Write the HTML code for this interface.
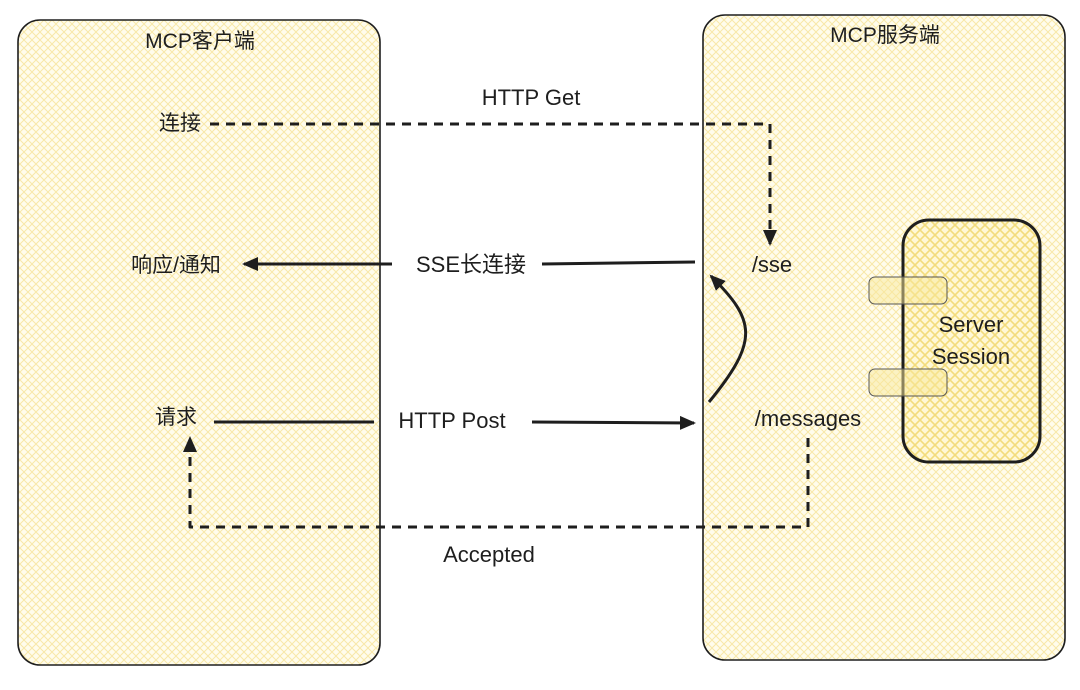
<!DOCTYPE html>
<html><head><meta charset="utf-8"><style>
html,body{margin:0;padding:0;background:#fff;}
svg text{font-family:"Liberation Sans","Noto Sans CJK SC",sans-serif;fill:#1e1e1e;}
</style></head><body>
<svg width="1080" height="685" viewBox="0 0 1080 685" xmlns="http://www.w3.org/2000/svg">
<defs>
<pattern id="h" width="8" height="8" patternUnits="userSpaceOnUse">
<rect width="8" height="8" fill="#fffcec"/>
<path d="M0 0L8 8M8 0L0 8" stroke="#f8e8a8" stroke-width="1"/>
</pattern>
<pattern id="h2" width="10" height="10" patternUnits="userSpaceOnUse">
<rect width="10" height="10" fill="#fff8d6"/>
<path d="M0 0L10 10M10 0L0 10" stroke="#f3dc7c" stroke-width="1.6"/>
</pattern>
<marker id="a" markerWidth="16" markerHeight="14" refX="14" refY="7" orient="auto" markerUnits="userSpaceOnUse">
<path d="M0 0L16 7L0 14Z" fill="#1e1e1e"/>
</marker>
</defs>
<rect x="18" y="20" width="362" height="645" rx="22" fill="url(#h)" stroke="#1e1e1e" stroke-width="1.6"/>
<rect x="703" y="15" width="362" height="645" rx="22" fill="url(#h)" stroke="#1e1e1e" stroke-width="1.6"/>
<rect x="903" y="220" width="137" height="242" rx="26" fill="url(#h2)" stroke="#1e1e1e" stroke-width="3"/>
<rect x="869" y="277" width="78" height="27" rx="6" fill="#f8e79a" fill-opacity="0.5" stroke="#555" stroke-width="1"/>
<rect x="869" y="369" width="78" height="27" rx="6" fill="#f8e79a" fill-opacity="0.5" stroke="#555" stroke-width="1"/>
<text x="200" y="48" font-size="21" text-anchor="middle">MCP客户端</text>
<text x="885" y="42" font-size="21" text-anchor="middle">MCP服务端</text>
<text x="180" y="130" font-size="21" text-anchor="middle">连接</text>
<text x="176" y="272" font-size="21" text-anchor="middle">响应/通知</text>
<text x="176" y="424" font-size="21" text-anchor="middle">请求</text>
<text x="531" y="105" font-size="22" text-anchor="middle">HTTP Get</text>
<text x="471" y="272" font-size="22" text-anchor="middle">SSE长连接</text>
<text x="452" y="428" font-size="22" text-anchor="middle">HTTP Post</text>
<text x="489" y="562" font-size="22" text-anchor="middle">Accepted</text>
<text x="772" y="272" font-size="22" text-anchor="middle">/sse</text>
<text x="808" y="426" font-size="22" text-anchor="middle">/messages</text>
<text x="971" y="332" font-size="22" text-anchor="middle">Server</text>
<text x="971" y="364" font-size="22" text-anchor="middle">Session</text>
<path d="M210 124 L770 124 L770 244" fill="none" stroke="#1e1e1e" stroke-width="3" stroke-dasharray="9 7" stroke-linejoin="round" marker-end="url(#a)"/>
<path d="M392 264 L244 264" fill="none" stroke="#1e1e1e" stroke-width="3" marker-end="url(#a)"/>
<path d="M695 262 L542 264" fill="none" stroke="#1e1e1e" stroke-width="3"/>
<path d="M214 422 L374 422" fill="none" stroke="#1e1e1e" stroke-width="3"/>
<path d="M532 422 L694 423" fill="none" stroke="#1e1e1e" stroke-width="3" marker-end="url(#a)"/>
<path d="M709 402 C760 340 755 320 711 276" fill="none" stroke="#1e1e1e" stroke-width="3" marker-end="url(#a)"/>
<path d="M808 438 L808 527 L190 527 L190 438" fill="none" stroke="#1e1e1e" stroke-width="3" stroke-dasharray="9 7" stroke-linejoin="round" marker-end="url(#a)"/>
</svg>
</body></html>
